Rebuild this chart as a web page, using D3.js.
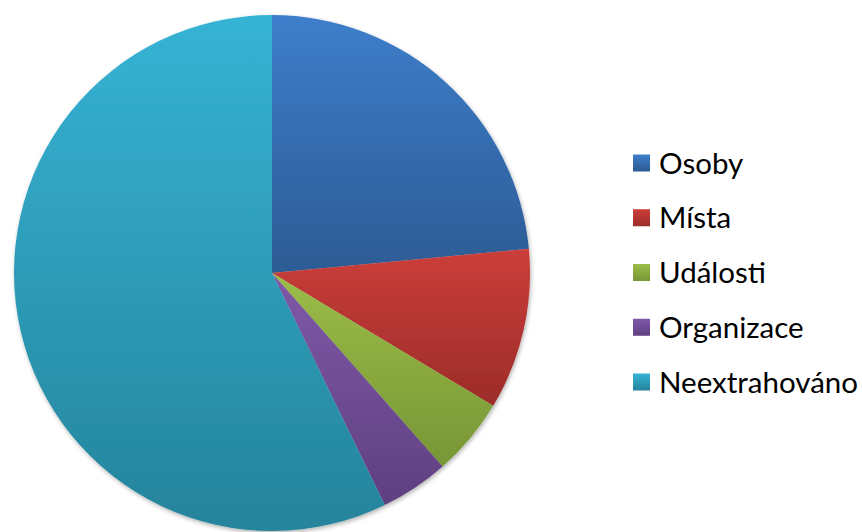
<!DOCTYPE html>
<html>
<head>
<meta charset="utf-8">
<script src="https://cdn.jsdelivr.net/npm/d3@7"></script>
<style>
  body { margin: 0; background: #fff; }
  svg { display: block; }
</style>
</head>
<body>
<div class="chart"></div>
<script>
// pie of extracted entity types

var w = 862,
	h = 532;

var categories = ['Osoby', 'Místa', 'Události', 'Organizace', 'Neextrahováno'];
var values = [23.5, 10.1, 4.9, 4.3, 57.2];
var topColors = ['#3d7ecb', '#cc3e3a', '#9cbd48', '#8059a8', '#36b3d5'];
var bottomColors = ['#2c5b94', '#9c2c29', '#779636', '#5e4080', '#25849b'];

var cx = 272, cy = 273, r = 258;

var svg = d3.select('.chart').append('svg')
	.attr('width', w)
	.attr('height', h);

var defs = svg.append('defs');

defs.append('filter')
	.attr('id', 'shadow')
	.attr('x', '-10%').attr('y', '-10%')
	.attr('width', '120%').attr('height', '120%')
	.append('feDropShadow')
	.attr('dx', 1).attr('dy', 2)
	.attr('stdDeviation', 2)
	.attr('flood-color', '#000')
	.attr('flood-opacity', 0.3);

categories.forEach(function(c, i) {
	var g = defs.append('linearGradient')
		.attr('id', 'grad' + i)
		.attr('x1', 0).attr('y1', 0)
		.attr('x2', 0).attr('y2', 1);
	g.append('stop').attr('offset', '0%').attr('stop-color', topColors[i]);
	g.append('stop').attr('offset', '100%').attr('stop-color', bottomColors[i]);
});

var pie = d3.pie().sort(null).value(function(d) { return d; });
var arc = d3.arc().innerRadius(0).outerRadius(r);

var pieG = svg.append('g')
	.attr('transform', 'translate(' + [cx, cy] + ')')
	.attr('filter', 'url(#shadow)');

pieG.selectAll('path')
		.data(pie(values))
	.enter().append('path')
		.attr('d', arc)
		.attr('fill', function(d, i) { return 'url(#grad' + i + ')'; });

// legend
var legY = d3.scalePoint()
	.domain(categories)
	.range([163, 382]);

var leg = svg.selectAll('.legend')
		.data(categories)
	.enter().append('g')
		.attr('class', 'legend')
		.attr('transform', function(d) { return 'translate(' + [633, legY(d)] + ')'; });

leg.append('rect')
	.attr('x', 0)
	.attr('y', -8.5)
	.attr('width', 17)
	.attr('height', 17)
	.attr('fill', function(d, i) { return 'url(#grad' + i + ')'; });

leg.append('text')
	.attr('x', 26)
	.attr('y', 0)
	.attr('dy', '0.36em')
	.style('font-family', 'Lato, "Open Sans", sans-serif')
	.style('font-size', '29.5px')
	.style('fill', '#000')
	.text(function(d) { return d; });
</script>
</body>
</html>
